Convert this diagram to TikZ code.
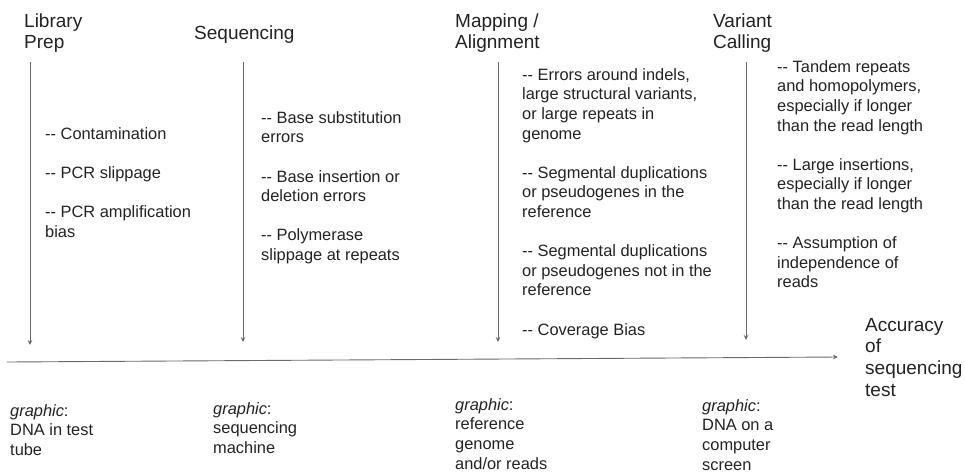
\documentclass[tikz,border=0pt]{standalone}
\usepackage{fontspec}
\setmainfont{Liberation Sans}
\usetikzlibrary{arrows.meta}
\definecolor{txt}{HTML}{222222}
\definecolor{ln}{HTML}{6A6A6A}
\newcommand\bodyf{\fontsize{16.4pt}{19.6pt}\selectfont}
\newcommand\headf{\fontsize{19pt}{21.8pt}\selectfont}
\begin{document}
\begin{tikzpicture}[x=1pt,y=-1pt,
  head/.style={anchor=north west,inner sep=0pt,align=left,text=txt,font=\headf},
  body/.style={anchor=north west,inner sep=0pt,align=left,text=txt,font=\bodyf},
  flow/.style={draw=ln,line width=0.9pt,-{Stealth[length=5pt,width=4.5pt]}}]
\useasboundingbox (0,0) rectangle (965,472);
% headers
\node[head] (hlib) at (24,11.7) {\strut Library\\Prep};
\node[head] (hseq) at (194,23.7) {\strut Sequencing};
\node[head] (hmap) at (455,11.7) {\strut Mapping /\\Alignment};
\node[head] (hvar) at (713,11.7) {\strut Variant\\Calling};
\node[head] (acc) at (865,315.7) {\strut Accuracy\\of\\sequencing\\test};
% items
\node[body] (ilib) at (45,125.3) {\strut -{}- Contamination\\[19.6pt]-{}- PCR slippage\\[19.6pt]-{}- PCR amplification\\bias};
\node[body] (iseq) at (261,109.3) {\strut -{}- Base substitution\\errors\\[19.6pt]-{}- Base insertion or\\deletion errors\\[19.6pt]-{}- Polymerase\\slippage at repeats};
\node[body] (imap) at (522,66.3) {\strut -{}- Errors around indels,\\large structural variants,\\or large repeats in\\genome\\[19.6pt]-{}- Segmental duplications\\or pseudogenes in the\\reference\\[19.6pt]-{}- Segmental duplications\\or pseudogenes not in the\\reference\\[19.6pt]-{}- Coverage Bias};
\node[body] (ivar) at (777,58.3) {\strut -{}- Tandem repeats\\and homopolymers,\\especially if longer\\than the read length\\[19.6pt]-{}- Large insertions,\\especially if longer\\than the read length\\[19.6pt]-{}- Assumption of\\independence of\\reads};
% graphics
\node[body] (glib) at (10,402.3) {\strut\textit{graphic}:\\DNA in test\\tube};
\node[body] (gseq) at (213,400.3) {\strut\textit{graphic}:\\sequencing\\machine};
\node[body] (gmap) at (455,396.3) {\strut\textit{graphic}:\\reference\\genome\\and/or reads};
\node[body] (gvar) at (702,397.3) {\strut\textit{graphic}:\\DNA on a\\computer\\screen};
% connectors
\coordinate (alt) at (30,62);  \coordinate (alb) at (30,345);
\coordinate (ast) at (243,62); \coordinate (asb) at (243,342);
\coordinate (amt) at (498,62); \coordinate (amb) at (498,342);
\coordinate (avt) at (746,62); \coordinate (avb) at (746,340);
\coordinate (hs) at (7,362);   \coordinate (he) at (838,357);
\draw[flow] (alt) -- (alb);
\draw[flow] (ast) -- (asb);
\draw[flow] (amt) -- (amb);
\draw[flow] (avt) -- (avb);
\draw[flow] (hs) -- (he);
\end{tikzpicture}
\end{document}
